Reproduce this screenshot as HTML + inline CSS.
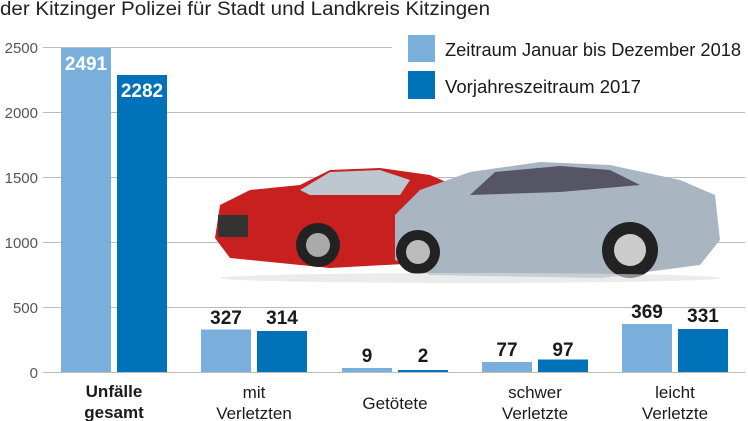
<!DOCTYPE html>
<html><head><meta charset="utf-8"><style>
html,body{margin:0;padding:0;background:#fff;}
svg{display:block;font-family:"Liberation Sans",sans-serif;}
</style></head><body>
<svg width="748" height="421" viewBox="0 0 748 421">
<text x="0" y="15" font-size="19" fill="#222" textLength="490" lengthAdjust="spacingAndGlyphs">der Kitzinger Polizei für Stadt und Landkreis Kitzingen</text>
<g stroke="#bbb" stroke-width="1">
<line x1="43" y1="47.5" x2="392" y2="47.5"/>
<line x1="43" y1="112.5" x2="745" y2="112.5"/>
<line x1="43" y1="177.5" x2="745" y2="177.5"/>
<line x1="43" y1="242.5" x2="745" y2="242.5"/>
<line x1="43" y1="307.5" x2="745" y2="307.5"/>
<line x1="43" y1="372.5" x2="745" y2="372.5"/>
</g>
<g font-size="15" fill="#555" text-anchor="end">
<text x="38" y="53">2500</text><text x="38" y="118">2000</text><text x="38" y="183">1500</text>
<text x="38" y="248">1000</text><text x="38" y="313">500</text><text x="38" y="378">0</text>
</g>
<g>
<path d="M215,238 L220,205 L250,190 L300,185 L330,170 L380,168 L430,175 L465,190 L470,240 L440,262 L330,268 L230,258 Z" fill="#c8201f"/>
<path d="M300,190 L330,172 L380,170 L410,180 L400,195 L310,195 Z" fill="#bcc7d0"/>
<rect x="218" y="215" width="30" height="22" fill="#333"/>
<circle cx="318" cy="245" r="22" fill="#222"/><circle cx="318" cy="245" r="12" fill="#aaa"/>
<path d="M395,215 L420,190 L470,172 L540,162 L610,165 L680,180 L715,195 L720,240 L700,265 L600,278 L430,275 L395,260 Z" fill="#a9b6c2"/>
<path d="M470,195 L495,172 L560,166 L610,170 L640,185 L560,192 Z" fill="#556"/>
<circle cx="630" cy="250" r="28" fill="#222"/><circle cx="630" cy="250" r="16" fill="#ccc"/>
<circle cx="418" cy="252" r="22" fill="#222"/><circle cx="418" cy="252" r="12" fill="#bbb"/>
<ellipse cx="470" cy="278" rx="250" ry="5" fill="#ddd" opacity="0.6"/>
</g>
<g fill="#7aafdc">
<rect x="61" y="48" width="50" height="324"/>
<rect x="201" y="329.5" width="50" height="42.5"/>
<rect x="342" y="368" width="50" height="4"/>
<rect x="482" y="362" width="50" height="10"/>
<rect x="622" y="324" width="50" height="48"/>
</g>
<g fill="#0072b9">
<rect x="117" y="75" width="50" height="297"/>
<rect x="257" y="331" width="50" height="41"/>
<rect x="398" y="370" width="50" height="2"/>
<rect x="538" y="359.5" width="50" height="12.5"/>
<rect x="678" y="329" width="50" height="43"/>
</g>
<g font-size="19" font-weight="bold" text-anchor="middle">
<text x="86" y="70" fill="#fff">2491</text>
<text x="142" y="97" fill="#fff">2282</text>
<g fill="#1a1a1a">
<text x="226" y="324">327</text><text x="282" y="324">314</text>
<text x="367" y="362">9</text><text x="423" y="362">2</text>
<text x="507" y="356">77</text><text x="563" y="356">97</text>
<text x="647" y="318">369</text><text x="703" y="322">331</text>
</g>
</g>
<g font-size="17" fill="#1a1a1a" text-anchor="middle">
<text x="114" y="397" font-weight="bold">Unfälle</text>
<text x="114" y="418" font-weight="bold">gesamt</text>
<text x="254" y="398">mit</text><text x="254" y="419">Verletzten</text>
<text x="395" y="409">Getötete</text>
<text x="535" y="398">schwer</text><text x="535" y="419">Verletzte</text>
<text x="675" y="398">leicht</text><text x="675" y="419">Verletzte</text>
</g>
<rect x="400" y="28" width="348" height="80" fill="#fff"/>
<rect x="408" y="35" width="27" height="27" fill="#7aafdc"/>
<rect x="408" y="71" width="27" height="28" fill="#0072b9"/>
<g font-size="18" fill="#1a1a1a">
<text x="445" y="56" textLength="296" lengthAdjust="spacingAndGlyphs">Zeitraum Januar bis Dezember 2018</text>
<text x="445" y="93" textLength="196" lengthAdjust="spacingAndGlyphs">Vorjahreszeitraum 2017</text>
</g>
</svg>
</body></html>
